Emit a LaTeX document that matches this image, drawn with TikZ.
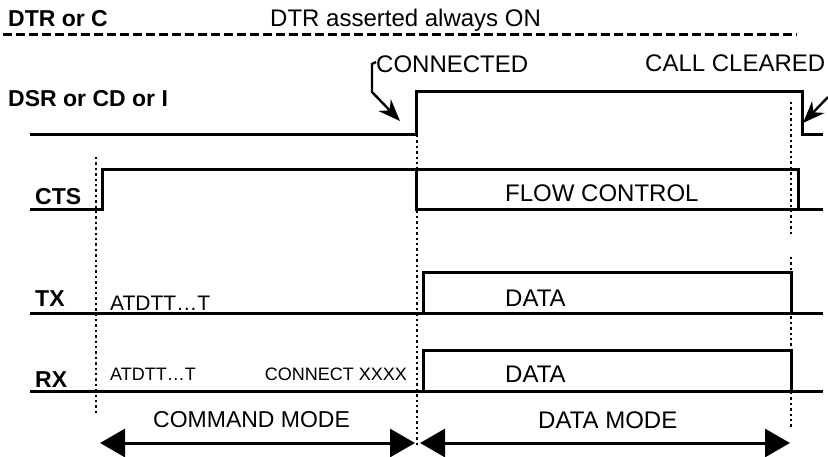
\documentclass[tikz,border=0pt]{standalone}
\usepackage{fontspec}
\setmainfont{Liberation Sans}
\usetikzlibrary{arrows.meta}
\newcommand{\dotcut}[3]{
\draw[mrk](#1,#2)--(#1,#3);
}
\tikzset{
sig/.style={line width=3pt},
mrk/.style={line width=2.6pt, dash pattern=on 2.4pt off 3pt},
lbl/.style={anchor=base west, inner sep=0pt, font=\bfseries\fontsize{23}{27}\selectfont},
txt/.style={anchor=base west, inner sep=0pt, font=\fontsize{24}{28}\selectfont},
small/.style={anchor=base west, inner sep=0pt, font=\fontsize{18}{22}\selectfont},
mode/.style={line width=3pt, {Triangle[length=25pt,width=28pt]}-{Triangle[length=25pt,width=28pt]}},
call/.style={line width=2.4pt, -{Stealth[length=22pt,width=17pt]}}
}
\begin{document}
\begin{tikzpicture}[x=1pt,y=-1pt]
\useasboundingbox (0,0) rectangle (828,457);

\node[lbl] (dtr) at (8,27) {DTR or C};
\node[txt] (dtron) at (270,27) {DTR asserted always ON};
\draw[line width=3pt, dash pattern=on 9pt off 4pt] (3,35)--(797,35);

\node[lbl] (dsr) at (8,107) {DSR or CD or I};
\draw[sig] (30,135)--(416,135)--(416,92)--(802,92)--(802,135)--(823,135);
\node[txt] (conn) at (376,73) {CONNECTED};
\node[txt] (clr) at (645,72) {CALL CLEARED};

\coordinate (connS) at (376,62);
\coordinate (connT) at (400,121);
\draw[call] (connS)--(372,64)--(372,92)--(connT);
\coordinate (clrS) at (828,97);
\coordinate (clrT) at (803,123);
\draw[call] (clrS)--(clrT);

\node[lbl] (cts) at (35,205) {CTS};
\draw[sig] (30,210)--(102,210)--(102,170)--(798,170)--(798,210)--(823,210);
\draw[sig] (416,170)--(416,210)--(798,210);
\node[txt] (flow) at (505,202) {FLOW CONTROL};

\node[lbl] (tx) at (35,307) {TX};
\draw[sig] (30,314)--(823,314);
\draw[sig] (423,314)--(423,273)--(791,273)--(791,314);
\node[txt, font=\fontsize{21}{25}\selectfont] (txat) at (110,311) {ATDTT…T};
\node[txt] (txdata) at (505,307) {DATA};

\node[lbl] (rx) at (35,387) {RX};
\draw[sig] (30,391)--(823,391);
\draw[sig] (423,391)--(423,350)--(791,350)--(791,391);
\node[small] (rxat) at (110,381) {ATDTT…T};
\node[small, anchor=base east] (rxcon) at (407,381) {CONNECT XXXX};
\node[txt] (rxdata) at (505,382) {DATA};

\dotcut{96}{157}{413}
\dotcut{417}{135}{447}
\dotcut{791}{102}{235}
\dotcut{791}{257}{427}

\coordinate (cmdL) at (100,443);
\coordinate (cmdR) at (415,443);
\coordinate (datL) at (420,443);
\coordinate (datR) at (790,443);
\draw[mode] (cmdL)--(cmdR);
\draw[mode] (datL)--(datR);
\node[txt, font=\fontsize{23}{27}\selectfont] (cmd) at (153,427) {COMMAND MODE};
\node[txt] (datmode) at (538,428) {DATA MODE};

\end{tikzpicture}
\end{document}
